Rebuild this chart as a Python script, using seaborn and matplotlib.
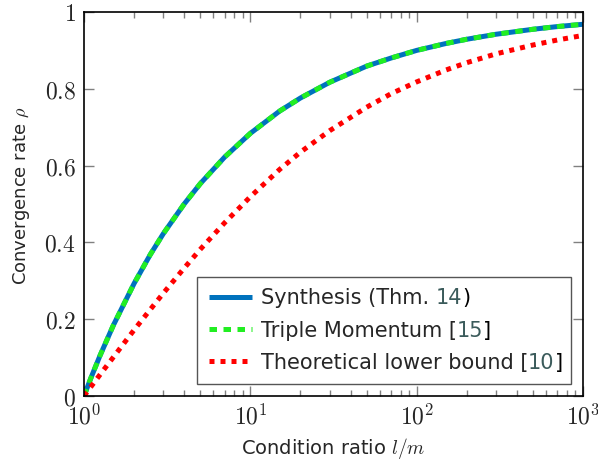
import numpy as np
import pandas as pd
import matplotlib
matplotlib.use('Agg')
import matplotlib.pyplot as plt
from matplotlib.patches import Rectangle
from matplotlib.transforms import IdentityTransform
import seaborn as sns

# Data
kappa = [1, 1.1, 1.25, 1.5, 2, 2.5, 3, 4, 5, 7, 10, 15, 20, 30, 50, 70,
         100, 150, 200, 300, 500, 700, 1000]
rho_synthesis = [0.0, 0.047, 0.106, 0.184, 0.293, 0.368, 0.423, 0.500, 0.553,
                 0.622, 0.684, 0.742, 0.776, 0.817, 0.859, 0.880, 0.900,
                 0.918, 0.929, 0.942, 0.955, 0.962, 0.968]
rho_triple = [0.0, 0.047, 0.106, 0.184, 0.293, 0.368, 0.423, 0.500, 0.553,
              0.622, 0.684, 0.742, 0.776, 0.817, 0.859, 0.880, 0.900,
              0.918, 0.929, 0.942, 0.955, 0.962, 0.968]
rho_lower = [0.0, 0.024, 0.056, 0.101, 0.172, 0.225, 0.268, 0.333, 0.382,
             0.451, 0.519, 0.590, 0.635, 0.691, 0.752, 0.787, 0.818,
             0.849, 0.868, 0.891, 0.914, 0.927, 0.939]

# legend labels: prefix, citation number (link colour), closing bracket
label_prefix = ["Synthesis (Thm. ", "Triple Momentum [",
                "Theoretical lower bound ["]
cite_refs = ["14", "15", "10"]
label_suffix = [")", "]", "]"]
series_names = [p + r + s for p, r, s in zip(label_prefix, cite_refs, label_suffix)]

x_ticks = [1, 10, 100, 1000]
x_tick_labels = [r"$10^0$", r"$10^1$", r"$10^2$", r"$10^3$"]
y_ticks = [0, 0.2, 0.4, 0.6, 0.8, 1]
y_tick_labels = [r"$0$", r"$0.2$", r"$0.4$", r"$0.6$", r"$0.8$", r"$1$"]

df = pd.DataFrame({
    "kappa": kappa * 3,
    "rho": rho_synthesis + rho_triple + rho_lower,
    "series": sum([[n] * len(kappa) for n in series_names], []),
})

sns.set_style("ticks")
plt.rcParams['font.family'] = ['DejaVu Sans']
plt.rcParams['mathtext.fontset'] = 'cm'

fig = plt.figure(figsize=(5.98, 4.68), dpi=100)
ax = fig.add_axes([0.1405, 0.1538, 0.8345, 0.8206])

colors = ["#0072BD", "#22EE22", "#FF0000"]
styles = [(0, ()), (0, (1.5, 1.3)), (0, (1.0, 1.2))]
for name, prefix, c, ls in zip(series_names, label_prefix, colors, styles):
    sub = df[df["series"] == name]
    sns.lineplot(data=sub, x="kappa", y="rho", ax=ax, color=c, lw=3.6,
                 linestyle=ls, label=prefix)

ax.set_xscale("log")
ax.set_xlim(1, 1000)
ax.set_ylim(0, 1)
ax.set_xticks(x_ticks)
ax.set_xticklabels(x_tick_labels, fontsize=17)
ax.set_yticks(y_ticks)
ax.set_yticklabels(y_tick_labels, fontsize=17)
ax.tick_params(which="both", direction="in", top=True, right=True,
               color="#808080", width=1)
ax.tick_params(which="major", length=7, pad=6)
ax.tick_params(which="minor", length=4)
for s in ax.spines.values():
    s.set_color("black")
    s.set_linewidth(1.2)

ax.set_xlabel(r"Condition ratio $l/m$", fontsize=14, labelpad=5)
ax.set_ylabel(r"Convergence rate $\rho$", fontsize=13, labelpad=9, y=0.52)

leg_fs = 15
leg = ax.legend(loc="lower left", bbox_to_anchor=(0.2265, 0.031),
                borderaxespad=0, fontsize=leg_fs, frameon=True,
                fancybox=False, handlelength=2.1, handletextpad=0.4,
                labelspacing=0.58, borderpad=0.55)
leg.get_frame().set_visible(False)

# finish the legend labels: coloured citation numbers + closing bracket
fig.canvas.draw()
renderer = fig.canvas.get_renderer()

def text_width(s):
    t = fig.text(0, 0, s, fontsize=leg_fs)
    w = t.get_window_extent(renderer).width
    t.remove()
    return w

frame_bb = leg.get_window_extent(renderer)
texts_right = max(t.get_window_extent(renderer).x1 for t in leg.get_texts())
right_pad = (frame_bb.x1 - texts_right) * 0.7
new_right = texts_right
for t, prefix, ref, suffix in zip(leg.get_texts(), label_prefix, cite_refs,
                                  label_suffix):
    bb = t.get_window_extent(renderer)
    x_ref = bb.x0 + text_width(prefix + ref) - text_width(ref)
    x_suf = bb.x0 + text_width(prefix + ref + suffix) - text_width(suffix)
    fig.text(x_ref, bb.y0, ref, fontsize=leg_fs, color="#3b5b5b",
             transform=IdentityTransform(), ha="left", va="bottom")
    st = fig.text(x_suf, bb.y0, suffix, fontsize=leg_fs, color="black",
                  transform=IdentityTransform(), ha="left", va="bottom")
    new_right = max(new_right, st.get_window_extent(renderer).x1)

frame = Rectangle((frame_bb.x0, frame_bb.y0),
                  new_right + right_pad - frame_bb.x0, frame_bb.height,
                  transform=IdentityTransform(), facecolor="white",
                  edgecolor="#555555", lw=1.0, zorder=4.5)
ax.add_artist(frame)

fig.savefig("out.png", dpi=100)
plt.close(fig)
